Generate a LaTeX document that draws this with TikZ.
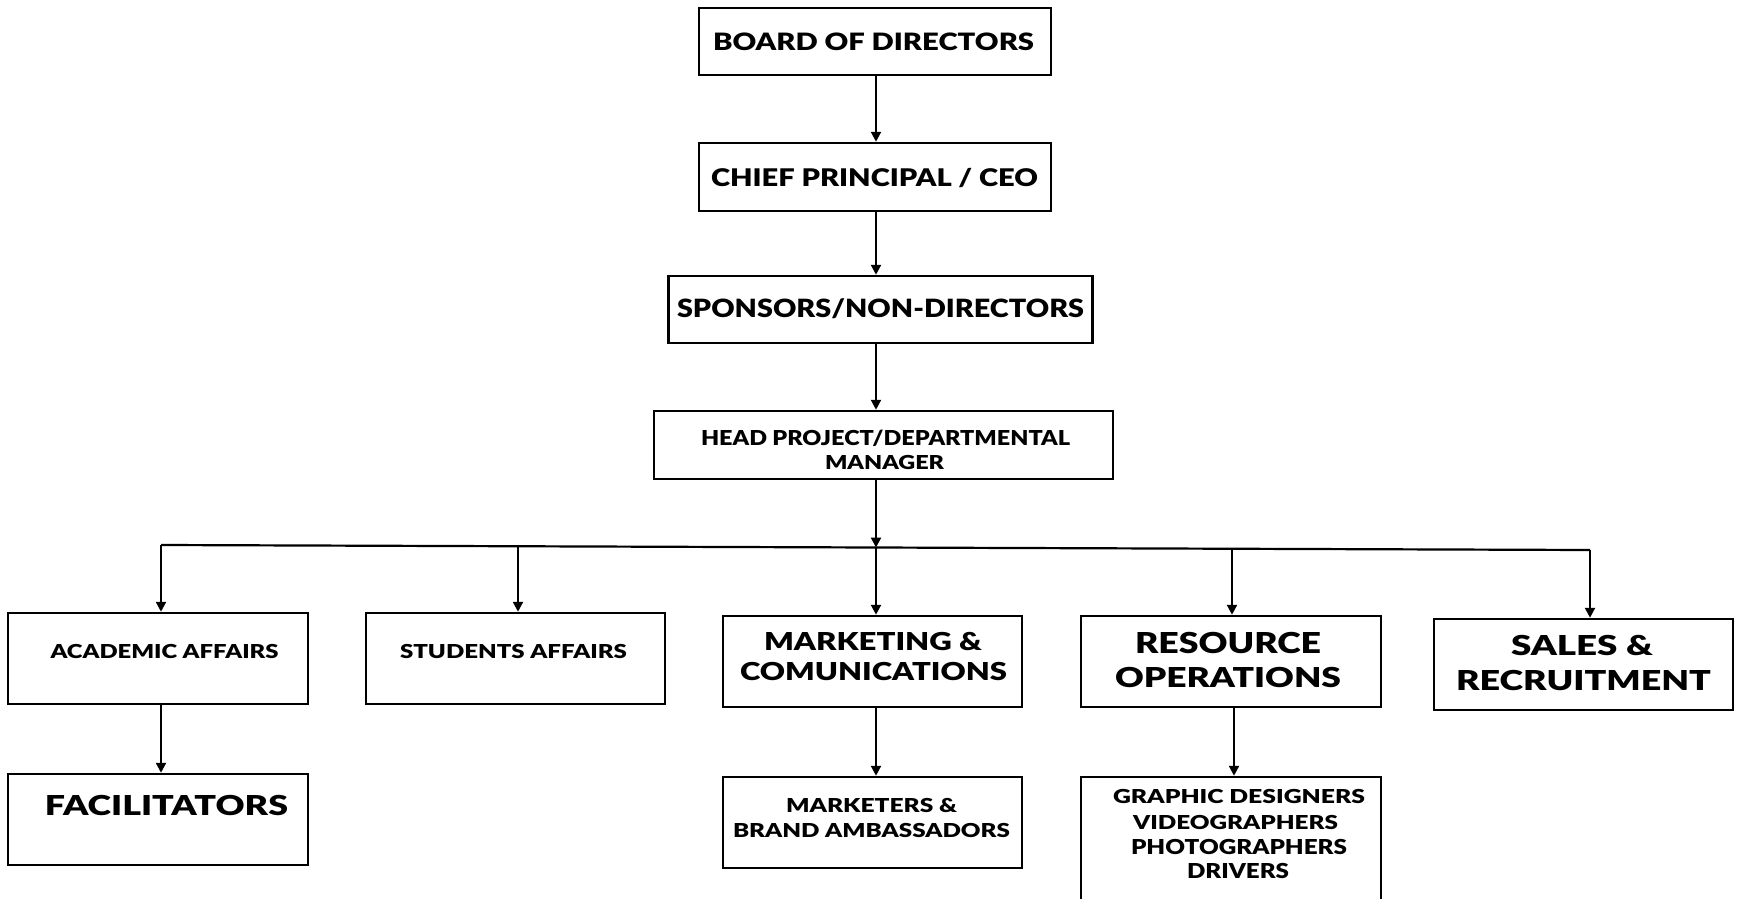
\documentclass[tikz,border=0pt]{standalone}
\usepackage{fontspec}
\IfFontExistsTF{Lato Black}{\setmainfont{Lato}[BoldFont={Lato Black}]}{\setmainfont{Lato}[BoldFeatures={FakeBold=2}]}
\usetikzlibrary{arrows.meta}
\newlength\fitw
\newlength\fitc
\newcommand\fitt[3]{\settowidth\fitw{#3}\settoheight\fitc{X}\pgfmathsetmacro\fith{#1/\fitw}\pgfmathsetmacro\fitv{#2/\fitc}\scalebox{\fith}[\fitv]{#3}}
\begin{document}
\begin{tikzpicture}[x=1pt,y=-1pt,
  box/.style={draw, line width=2.5pt, inner sep=0pt},
  txt/.style={inner sep=0pt, anchor=base, font=\bfseries\fontsize{20}{24}\selectfont},
  conn/.style={line width=2.2pt},
  arr/.style={line width=2.2pt, -{Triangle[width=10pt,length=10pt]}}]
\useasboundingbox (0,0) rectangle (1738,899);
\clip (0,0) rectangle (1738,899);
\fill[white] (0,0) rectangle (1738,899);

% boxes
\node[box, minimum width=352pt, minimum height=67pt] (board) at (875,41.5) {};
\node[box, minimum width=352pt, minimum height=68pt] (ceo) at (875,177) {};
\node[box, minimum width=424pt, minimum height=67pt] (spon) at (880.5,309.5) {};
\node[box, minimum width=459pt, minimum height=68pt] (head) at (883.5,445) {};
\node[box, minimum width=300pt, minimum height=91pt] (acad) at (158,658.5) {};
\node[box, minimum width=299pt, minimum height=91pt] (stud) at (515.5,658.5) {};
\node[box, minimum width=299pt, minimum height=91pt] (mark) at (872.5,661.5) {};
\node[box, minimum width=300pt, minimum height=91pt] (res) at (1231,661.5) {};
\node[box, minimum width=299pt, minimum height=91pt] (sales) at (1583.5,664.5) {};
\node[box, minimum width=300pt, minimum height=91pt] (fac) at (158,819.5) {};
\node[box, minimum width=299pt, minimum height=91pt] (mkt2) at (872.5,822.5) {};
\node[box, minimum width=300pt, minimum height=140pt] (gfx) at (1231,847) {};

% texts
\node[txt] (board-t) at (873.5,50.7) {\fitt{321}{17.4}{BOARD OF DIRECTORS}};
\node[txt] (ceo-t) at (874.5,186) {\fitt{327}{17.7}{CHIEF PRINCIPAL / CEO}};
\node[txt] (spon-t) at (880.5,317.7) {\fitt{407}{18.3}{SPONSORS/NON-DIRECTORS}};
\node[txt] (head-t1) at (885.5,445) {\fitt{369}{15}{HEAD PROJECT/DEPARTMENTAL}};
\node[txt] (head-t2) at (884.5,469) {\fitt{119}{14}{MANAGER}};
\node[txt] (acad-t) at (164.5,658) {\fitt{228}{14}{ACADEMIC AFFAIRS}};
\node[txt] (stud-t) at (513.5,658) {\fitt{227}{14}{STUDENTS AFFAIRS}};
\node[txt] (fac-t) at (166.5,815) {\fitt{243}{20}{FACILITATORS}};
\node[txt] (mark-t1) at (873,650) {\fitt{218}{18}{MARKETING \&}};
\node[txt] (mark-t2) at (873.5,680) {\fitt{267}{18}{COMUNICATIONS}};
\node[txt] (res-t1) at (1228,653) {\fitt{186}{21}{RESOURCE}};
\node[txt] (res-t2) at (1228,687) {\fitt{226}{20}{OPERATIONS}};
\node[txt] (sales-t1) at (1582,655) {\fitt{142}{20}{SALES \&}};
\node[txt] (sales-t2) at (1583.5,690) {\fitt{255}{20}{RECRUITMENT}};
\node[txt] (mkt2-t1) at (871.5,812) {\fitt{171}{14}{MARKETERS \&}};
\node[txt] (mkt2-t2) at (871.5,837) {\fitt{277}{14}{BRAND AMBASSADORS}};
\node[txt] (gfx-t1) at (1239,803) {\fitt{252}{14}{GRAPHIC DESIGNERS}};
\node[txt] (gfx-t2) at (1235.5,829) {\fitt{205}{14}{VIDEOGRAPHERS}};
\node[txt] (gfx-t3) at (1239,854) {\fitt{216}{15}{PHOTOGRAPHERS}};
\node[txt] (gfx-t4) at (1238,878) {\fitt{102}{15}{DRIVERS}};

% connector coordinates
\coordinate (spine) at (876,0);
\coordinate (resx) at (1234,0);
\coordinate (busL) at (161,545);
\coordinate (busS) at (518,546.3);
\coordinate (busM) at (876,547.5);
\coordinate (busO) at (1232,548.8);
\coordinate (busR) at (1590,550);

% connectors
\draw[arr] (board.south -| spine) -- (ceo.north -| spine);
\draw[arr] (ceo.south -| spine) -- (spon.north -| spine);
\draw[arr] (spon.south -| spine) -- (head.north -| spine);
\draw[arr] (head.south -| spine) -- (busM);
\draw[conn] (busL) -- (busR);
\draw[arr] (busL) -- (acad.north -| busL);
\draw[arr] (busS) -- (stud.north -| busS);
\draw[arr] (busM) -- (mark.north -| busM);
\draw[arr] (busO) -- (res.north -| busO);
\draw[arr] (busR) -- (sales.north -| busR);
\draw[arr] (acad.south -| busL) -- (fac.north -| busL);
\draw[arr] (mark.south -| spine) -- (mkt2.north -| spine);
\draw[arr] (res.south -| resx) -- (gfx.north -| resx);
\end{tikzpicture}
\end{document}
